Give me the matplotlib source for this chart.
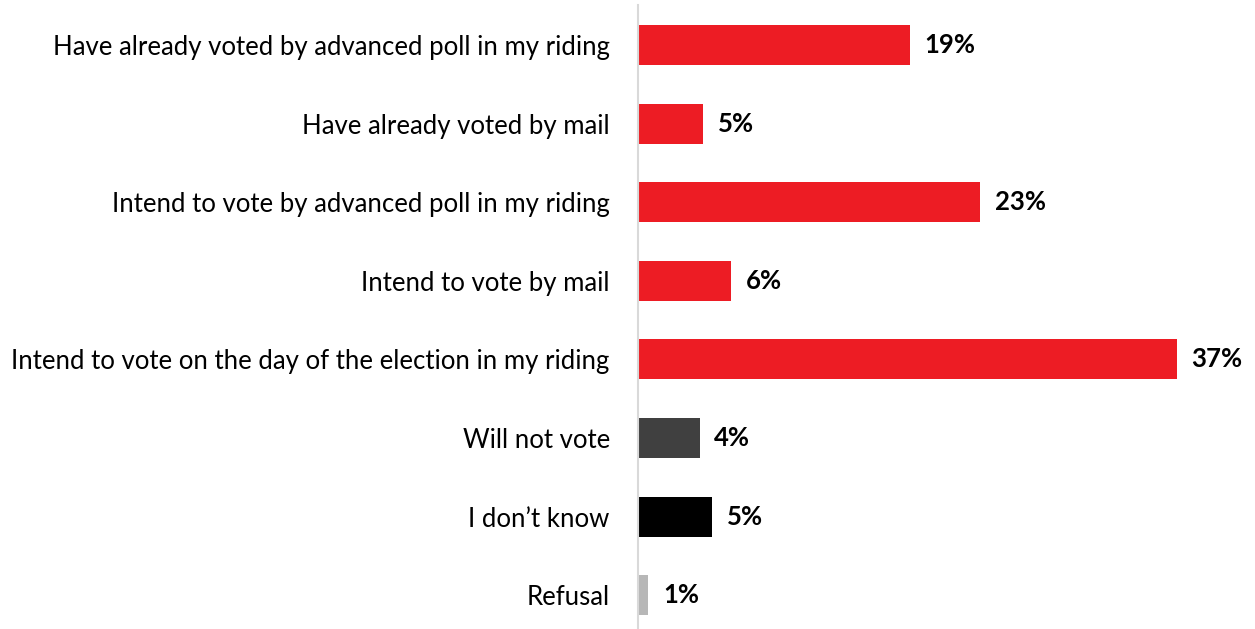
import matplotlib.pyplot as plt

categories = [
    "Have already voted by advanced poll in my riding",
    "Have already voted by mail",
    "Intend to vote by advanced poll in my riding",
    "Intend to vote by mail",
    "Intend to vote on the day of the election in my riding",
    "Will not vote",
    "I don\u2019t know",
    "Refusal",
]
values = [18.7, 4.5, 23.5, 6.4, 37.0, 4.25, 5.1, 0.75]
labels = ["19%", "5%", "23%", "6%", "37%", "4%", "5%", "1%"]
colors = ["#ED1C24"] * 5 + ["#404040", "#000000", "#B7B7B7"]

plt.rcParams['font.family'] = ['Lato', 'DejaVu Sans']

fig = plt.figure(figsize=(12.55, 6.29), dpi=100)
ax = fig.add_axes([0.508, 0.0, 0.488, 0.992])

pos = list(range(len(categories)))
ax.barh(pos, values, height=0.51, color=colors)
for p, v, t in zip(pos, values, labels):
    ax.text(v + 1.0, p, t, va='center', ha='left', fontsize=18.5, fontweight='bold')

ax.set_yticks(pos)
ax.set_yticklabels(categories, fontsize=18.5)
ax.tick_params(axis='y', length=0, pad=20)
ax.set_xticks([])
ax.set_xlim(0, 42)
ax.set_ylim(7.43, -0.51)
for s in ['top', 'right', 'bottom']:
    ax.spines[s].set_visible(False)
ax.spines['left'].set_color('#D9D9D9')
ax.spines['left'].set_linewidth(1.5)

fig.savefig('out.png', dpi=100)
